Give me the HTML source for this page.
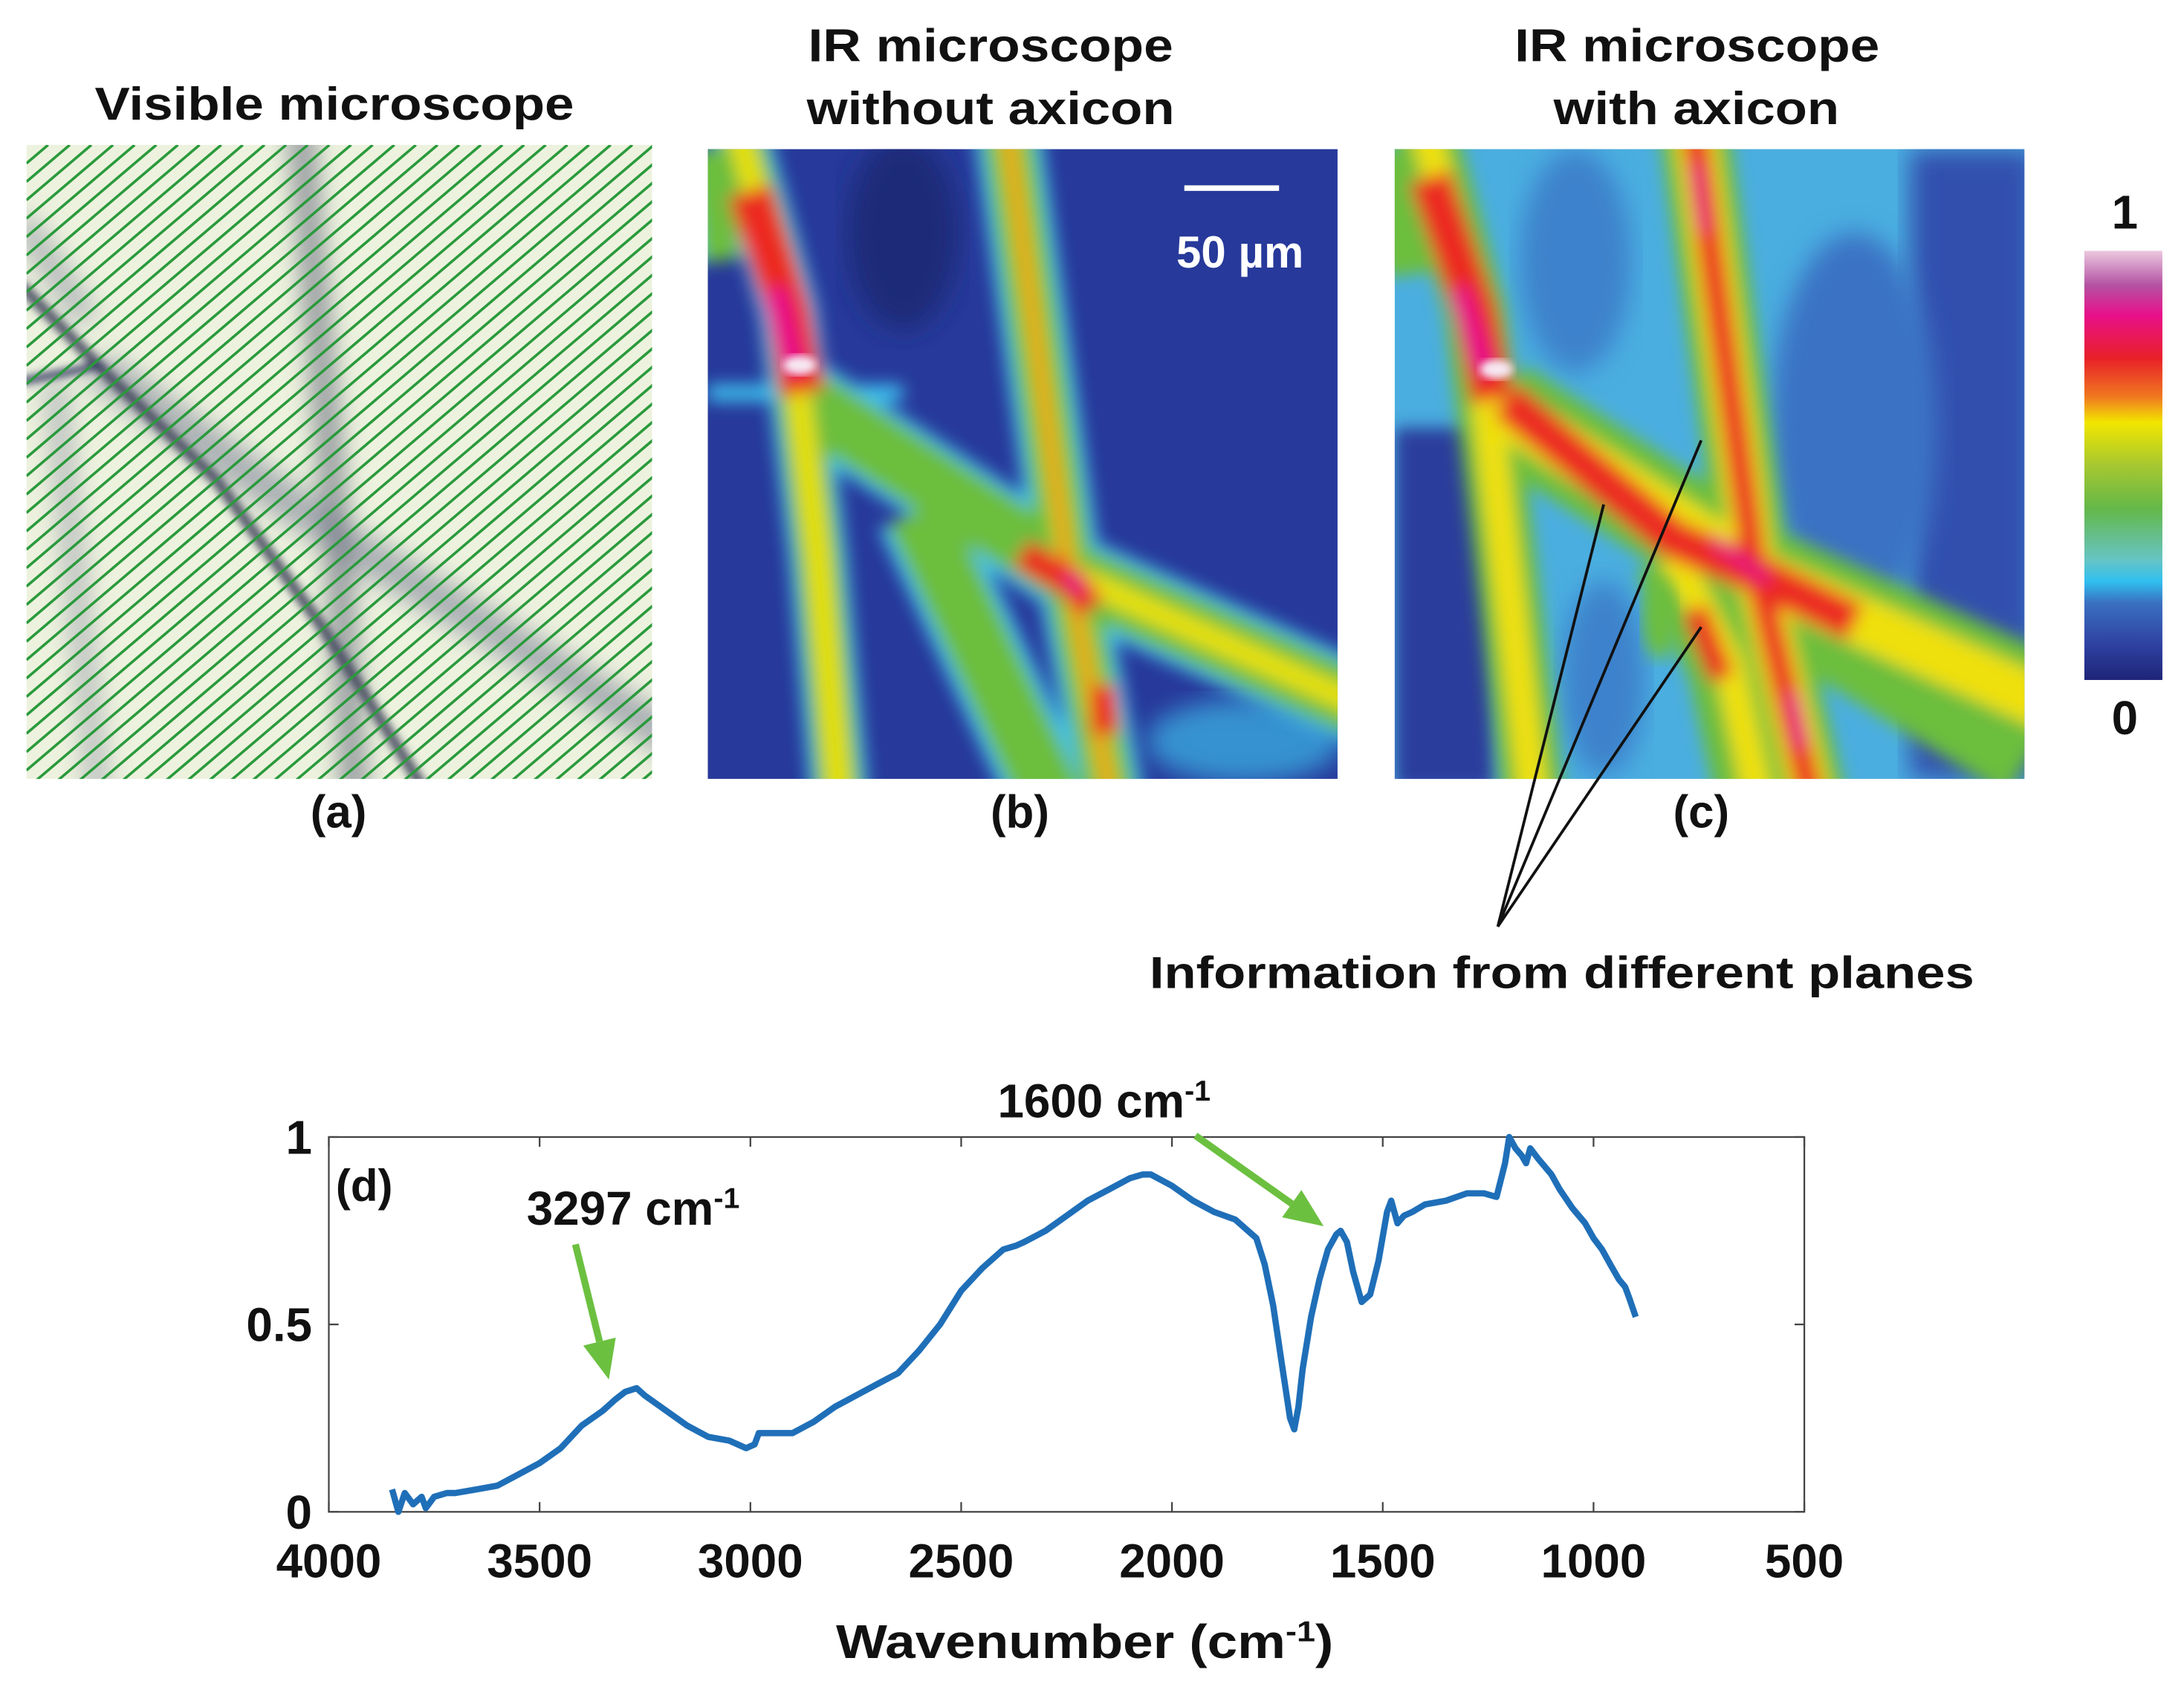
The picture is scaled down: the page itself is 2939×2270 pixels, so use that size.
<!DOCTYPE html>
<html><head><meta charset="utf-8"><style>
html,body{margin:0;padding:0;background:#fff;}
svg{display:block;}
text{font-family:"Liberation Sans",Arial,sans-serif;font-weight:bold;fill:#111;}
</style></head><body>
<svg id="fig" width="2939" height="2270" viewBox="0 0 1567.5 1210.7" xmlns="http://www.w3.org/2000/svg">
<defs>
<filter id="blur" x="-10%" y="-10%" width="120%" height="120%"><feGaussianBlur stdDeviation="6"/></filter>
<filter id="blur2" x="-10%" y="-10%" width="120%" height="120%"><feGaussianBlur stdDeviation="9"/></filter>
<filter id="blur3" x="-10%" y="-10%" width="120%" height="120%"><feGaussianBlur stdDeviation="3"/></filter>
<clipPath id="clipA"><rect x="0" y="0" width="449" height="455"/></clipPath>
<clipPath id="clipB"><rect x="0" y="0" width="452" height="452"/></clipPath>
<linearGradient id="cbar" x1="0" y1="0" x2="0" y2="1">
<stop offset="0" stop-color="#ecc8e0"/><stop offset="0.08" stop-color="#b452a2"/><stop offset="0.15" stop-color="#e8108a"/>
<stop offset="0.25" stop-color="#e82028"/><stop offset="0.34" stop-color="#f07820"/><stop offset="0.40" stop-color="#f2e600"/>
<stop offset="0.5" stop-color="#a6c830"/><stop offset="0.6" stop-color="#64b848"/><stop offset="0.72" stop-color="#66c4c4"/>
<stop offset="0.77" stop-color="#30c0f0"/><stop offset="0.82" stop-color="#3a70c0"/><stop offset="0.92" stop-color="#2e40a0"/><stop offset="1" stop-color="#1e2478"/>
</linearGradient>
</defs>

<!-- Titles -->
<text x="68" y="86" font-size="33" textLength="344" lengthAdjust="spacingAndGlyphs">Visible microscope</text>
<text x="580" y="44" font-size="33" textLength="262" lengthAdjust="spacingAndGlyphs">IR microscope</text>
<text x="579" y="89" font-size="33" textLength="264" lengthAdjust="spacingAndGlyphs">without axicon</text>
<text x="1087" y="44" font-size="33" textLength="262" lengthAdjust="spacingAndGlyphs">IR microscope</text>
<text x="1115" y="89" font-size="33" textLength="205" lengthAdjust="spacingAndGlyphs">with axicon</text>

<!-- Panel a -->
<g transform="translate(19,104)">
<g clip-path="url(#clipA)">
<rect width="449" height="455" fill="#edf2de"/>
<g filter="url(#blur2)" fill="none" stroke-linecap="round">
<polyline points="58,165 229,285 470,430" stroke="#8a90a0" stroke-width="26" opacity="0.7"/>
<polyline points="197,-10 222,270 236,470" stroke="#6a7080" stroke-width="16" opacity="0.8"/>
<polyline points="21,175 52,470" stroke="#8a90a0" stroke-width="14" opacity="0.6"/>
<polyline points="0,60 40,120" stroke="#8a90a0" stroke-width="18" opacity="0.6"/>
</g>
<g filter="url(#blur3)" fill="none">
<polyline points="-5,100 58,165 136,240 213,347 290,470" stroke="#3a3f55" stroke-width="8" opacity="0.85"/>
<polyline points="-5,170 55,158" stroke="#303860" stroke-width="5"/>
</g>
<g id="hatch" stroke="#2a9a3c" stroke-width="1.9"></g>
</g></g>

<!-- Panel b -->
<g transform="translate(508,107)">
<g clip-path="url(#clipB)">
<rect width="452" height="452" fill="#27399a"/>
<ellipse cx="140" cy="60" rx="40" ry="70" fill="#1e2a78" filter="url(#blur2)"/>
<ellipse cx="385" cy="425" rx="70" ry="30" fill="#3cb8e8" opacity="0.7" filter="url(#blur2)"/>
<g filter="url(#blur)" fill="none" stroke-linecap="butt" stroke-linejoin="round">
<g stroke="#3cc0ee"><polyline points="20,-20 58,117 79,292 95,470" stroke-width="42"/><polyline points="214,-20 257,292 290,470" stroke-width="48"/><polyline points="70,180 262,306 470,400" stroke-width="58"/><polyline points="150,260 248,470" stroke-width="60"/><polyline points="0,175 140,175" stroke-width="12"/><polyline points="0,0 10,80" stroke-width="40"/></g>
<g stroke="#6cbe3c"><polyline points="20,-20 58,117 79,292 95,470" stroke-width="32"/><polyline points="214,-20 257,292 290,470" stroke-width="36"/><polyline points="70,180 262,306 470,400" stroke-width="46"/><polyline points="150,260 248,470" stroke-width="46"/><polyline points="0,0 10,80" stroke-width="28"/></g>
<g stroke="#e6e010"><polyline points="20,-20 58,117 79,292 95,470" stroke-width="18"/><polyline points="214,-20 257,292 290,470" stroke-width="14"/><polyline points="262,306 470,400" stroke-width="18"/></g>
<g stroke="#ec2a20"><polyline points="30,30 58,117 68,175" stroke-width="32"/><polyline points="214,-20 257,292 290,470" stroke-width="5"/><polyline points="225,290 262,312 275,330" stroke-width="22"/><polyline points="283,385 285,420" stroke-width="20"/></g>
<g stroke="#e8108a"><polyline points="48,100 62,160" stroke-width="18"/><polyline points="258,305 268,318" stroke-width="10"/></g>
</g>
<ellipse cx="66" cy="155" rx="12" ry="7" fill="#f6e8f2" filter="url(#blur3)"/>
<line x1="342" y1="28" x2="410" y2="28" stroke="#fff" stroke-width="4"/>
<text x="382" y="85" font-size="32" text-anchor="middle" style="fill:#fff">50 µm</text>
</g></g>

<!-- Panel c -->
<g transform="translate(1001,107)">
<g clip-path="url(#clipB)">
<rect width="452" height="452" fill="#4aaee0"/>
<rect x="370" y="0" width="90" height="452" fill="#3050ae" filter="url(#blur2)"/>
<ellipse cx="330" cy="200" rx="60" ry="140" fill="#3a72c4" filter="url(#blur2)"/>
<ellipse cx="130" cy="80" rx="40" ry="80" fill="#3c82cc" filter="url(#blur2)"/>
<ellipse cx="150" cy="380" rx="30" ry="70" fill="#3c82cc" filter="url(#blur2)"/>
<rect x="0" y="200" width="72" height="260" fill="#2a3c9c" filter="url(#blur)"/>
<g filter="url(#blur)" fill="none" stroke-linecap="butt" stroke-linejoin="round">
<g stroke="#6cbe3c"><polyline points="20,-20 58,117 79,292 100,470" stroke-width="44"/><polyline points="214,-20 257,292 300,470" stroke-width="50"/><polyline points="75,185 262,306 470,400" stroke-width="70"/><polyline points="200,290 240,370 262,470" stroke-width="60"/><polyline points="0,0 10,90" stroke-width="36"/><polyline points="300,330 460,430" stroke-width="80"/></g>
<g stroke="#eee010"><polyline points="20,-20 58,117 79,292 100,470" stroke-width="22"/><polyline points="214,-20 257,292 300,470" stroke-width="30"/><polyline points="75,185 262,306 470,400" stroke-width="36"/><polyline points="200,290 240,370 262,470" stroke-width="22"/></g>
<g stroke="#ec2a20"><polyline points="25,20 58,117 70,180" stroke-width="30"/><polyline points="214,-20 257,292 300,470" stroke-width="18"/><polyline points="80,180 200,280 262,306 330,340" stroke-width="28"/><polyline points="215,330 235,380" stroke-width="18"/></g>
<g stroke="#e8108a"><polyline points="45,100 65,160" stroke-width="16"/><polyline points="216,10 222,60" stroke-width="8"/><polyline points="228,280 268,310" stroke-width="8"/><polyline points="285,390 292,430" stroke-width="10"/></g>
</g>
<ellipse cx="73" cy="158" rx="12" ry="7" fill="#f6e8f2" filter="url(#blur3)"/>
<ellipse cx="190" cy="338" rx="12" ry="28" fill="#6cbe3c" filter="url(#blur)"/>
</g></g>

<!-- Panel labels -->
<text x="243" y="594" font-size="33" text-anchor="middle">(a)</text>
<text x="732" y="594" font-size="33" text-anchor="middle">(b)</text>
<text x="1221" y="594" font-size="33" text-anchor="middle">(c)</text>

<!-- Colorbar -->
<rect x="1496" y="180" width="56" height="308" fill="url(#cbar)"/>
<text x="1525" y="164" font-size="34" text-anchor="middle">1</text>
<text x="1525" y="527" font-size="34" text-anchor="middle">0</text>

<!-- Annotation -->
<g stroke="#111" stroke-width="2">
<line x1="1075" y1="665" x2="1151" y2="362"/><line x1="1075" y1="665" x2="1221" y2="316"/><line x1="1075" y1="665" x2="1221" y2="450"/>
</g>
<text x="825" y="709" font-size="32" textLength="592" lengthAdjust="spacingAndGlyphs">Information from different planes</text>

<!-- Chart d -->
<g id="chart"></g>
</svg>
<script>
const waves=[3850,3835,3820,3800,3780,3770,3750,3720,3700,3650,3600,3550,3500,3450,3400,3350,3320,3297,3270,3250,3200,3150,3100,3050,3010,2990,2980,2950,2900,2850,2800,2750,2700,2650,2600,2550,2500,2450,2400,2370,2350,2300,2250,2200,2150,2100,2070,2050,2000,1950,1900,1850,1800,1780,1760,1740,1720,1710,1700,1690,1670,1650,1630,1610,1600,1585,1570,1550,1530,1510,1490,1480,1465,1450,1430,1400,1350,1300,1260,1230,1210,1200,1185,1170,1160,1150,1130,1100,1080,1050,1020,1000,980,960,940,925,915,900];
const values=[0.06,0.0,0.05,0.02,0.04,0.01,0.04,0.05,0.05,0.06,0.07,0.10,0.13,0.17,0.23,0.27,0.30,0.32,0.33,0.31,0.27,0.23,0.20,0.19,0.17,0.18,0.21,0.21,0.21,0.24,0.28,0.31,0.34,0.37,0.43,0.50,0.59,0.65,0.70,0.71,0.72,0.75,0.79,0.83,0.86,0.89,0.90,0.90,0.87,0.83,0.80,0.78,0.73,0.66,0.55,0.40,0.25,0.22,0.28,0.38,0.52,0.62,0.70,0.74,0.75,0.72,0.64,0.56,0.58,0.67,0.80,0.83,0.77,0.79,0.80,0.82,0.83,0.85,0.85,0.84,0.93,1.0,0.97,0.95,0.93,0.97,0.94,0.90,0.86,0.81,0.77,0.73,0.70,0.66,0.62,0.60,0.57,0.52];
const xTicks=[4000,3500,3000,2500,2000,1500,1000,500];
const yTicks=[0,0.5,1];
const yTickLabels=["0","0.5","1"];
const NS="http://www.w3.org/2000/svg";
// hatch lines for panel a
const hg=document.getElementById('hatch');
for(let c=0;c<860;c+=13.2){
  const ln=document.createElementNS(NS,'line');
  ln.setAttribute('x1',0);ln.setAttribute('y1',c);
  ln.setAttribute('x2',c/0.85);ln.setAttribute('y2',0);
  
  
  hg.appendChild(ln);
}
const L=236,R=1295,T=816,B=1085;
function xs(w){return L+(4000-w)/(4000-500)*(R-L);}
function ys(v){return B-v*(B-T);}
const g=document.getElementById('chart');
function el(tag,attrs,parent){const e=document.createElementNS(NS,tag);for(const k in attrs)e.setAttribute(k,attrs[k]);(parent||g).appendChild(e);return e;}
const frame=el('rect',{x:L,y:T,width:R-L,height:B-T,fill:'none',stroke:'#444','stroke-width':1.2});


xTicks.forEach(w=>{
  const x=xs(w);
  const t1=el('line',{x1:x,y1:B,x2:x,y2:B-7,stroke:'#444','stroke-width':1.2});
  
  
  const t2=el('line',{x1:x,y1:T,x2:x,y2:T+7,stroke:'#444','stroke-width':1.2});
  
  
  const lb=el('text',{x:x,y:1132,'font-size':34,'text-anchor':'middle'});
  lb.textContent=w;
  
  
});
yTicks.forEach((v,i)=>{
  const y=ys(v);
  const t1=el('line',{x1:L,y1:y,x2:L+7,y2:y,stroke:'#444','stroke-width':1.2});
  
  
  const t2=el('line',{x1:R,y1:y,x2:R-7,y2:y,stroke:'#444','stroke-width':1.2});
  
  
  const lb=el('text',{x:224,y:y+12,'font-size':34,'text-anchor':'end'});
  lb.textContent=yTickLabels[i];
  
  
});
const pts=waves.map((w,i)=>xs(w).toFixed(1)+','+ys(values[i]).toFixed(1)).join(' ');
const line=el('polyline',{points:pts,fill:'none',stroke:'#1f6fb8','stroke-width':4.5,'stroke-linejoin':'round'});


const xt=el('text',{x:600,y:1190,'font-size':34,textLength:357,lengthAdjust:'spacingAndGlyphs'});
xt.innerHTML='Wavenumber (cm<tspan dy="-12" font-size="21">-1</tspan><tspan dy="12">)</tspan>';


const dl=el('text',{x:241,y:862,'font-size':32});
dl.textContent='(d)';


const a1=el('text',{x:378,y:879,'font-size':34});
a1.innerHTML='3297 cm<tspan dy="-12" font-size="21">-1</tspan>';


const a2=el('text',{x:716,y:802,'font-size':34});
a2.innerHTML='1600 cm<tspan dy="-12" font-size="21">-1</tspan>';


function arrow(x1,y1,x2,y2,name){
  const dx=x2-x1,dy=y2-y1,len=Math.hypot(dx,dy),ux=dx/len,uy=dy/len;
  const hx=x2-ux*28,hy=y2-uy*28;
  const gg=el('g',{});
  
  
  el('line',{x1:x1,y1:y1,x2:hx,y2:hy,stroke:'#6cc040','stroke-width':5},gg);
  el('polygon',{points:`${x2},${y2} ${hx-uy*12},${hy+ux*12} ${hx+uy*12},${hy-ux*12}`,fill:'#6cc040'},gg);
}
arrow(413,893,437,990,'arrow-3297');
arrow(858,815,950,880,'arrow-1600');
</script>
</body></html>
